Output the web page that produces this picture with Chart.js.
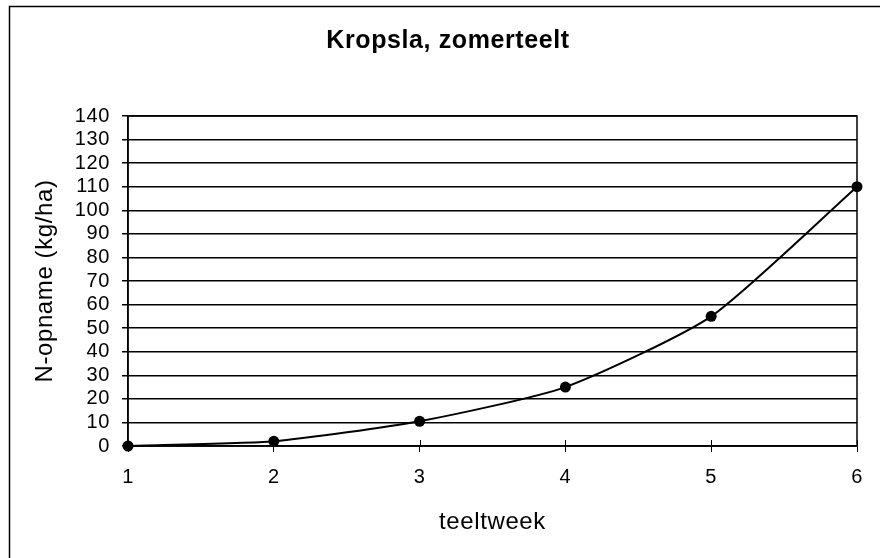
<!DOCTYPE html>
<html>
<head>
<meta charset="utf-8">
<script src="https://cdn.jsdelivr.net/npm/chart.js@4"></script>
<style>
    html, body { margin: 0; padding: 0; background: #fff; }
    #wrap { width: 880px; height: 558px; }
</style>
</head>
<body>
<div id="wrap"><canvas id="nChart"></canvas></div>
<script>
// data
const weeks = [1, 2, 3, 4, 5, 6];
const nUptake = [0, 2, 10.5, 25, 55, 110];
const yTicks = [0, 140, 10];

const chartTitle = 'Kropsla, zomerteelt';
const yTitle = 'N-opname (kg/ha)';
const xTitle = 'teeltweek';

const font = '"Liberation Sans", Arial, sans-serif';

// the old chart has slightly wider text
const spacingPlugin = {
    id: 'spacing',
    beforeDraw(chart) {
        chart.ctx.letterSpacing = '0.6px';
    }
};

// frame round the whole chart (only left/top visible) + box + inward x ticks
const framePlugin = {
    id: 'frame',
    afterDraw(chart) {
        const ctx = chart.ctx;
        const a = chart.chartArea;
        ctx.save();
        ctx.strokeStyle = '#000';
        ctx.lineWidth = 1.5;
        ctx.strokeRect(9.5, 6.5, chart.width + 20, chart.height + 20);
        ctx.strokeRect(a.left, a.top, a.right - a.left, a.bottom - a.top);

        const xs = chart.scales.x;
        ctx.lineWidth = 1;
        xs.ticks.forEach(t => {
            const px = Math.round(xs.getPixelForValue(t.value)) + 0.5;
            ctx.beginPath();
            ctx.moveTo(px, a.bottom);
            ctx.lineTo(px, a.bottom - 6);
            ctx.stroke();
        });
        ctx.restore();
    }
};

new Chart(document.getElementById('nChart'), {
    type: 'line',
    data: {
        datasets: [{
            data: weeks.map((w, i) => ({ x: w, y: nUptake[i] })),
            borderColor: '#000',
            backgroundColor: '#000',
            borderWidth: 2,
            pointRadius: 5.5,
            pointHoverRadius: 5.5,
            pointBackgroundColor: '#000',
            pointBorderWidth: 0,
            tension: 0.2,
            clip: false
        }]
    },
    options: {
        responsive: true,
        maintainAspectRatio: false,
        animation: false,
        layout: { padding: { left: 16, right: 0, top: 0, bottom: 0 } },
        plugins: {
            legend: { display: false },
            tooltip: { enabled: false },
            title: {
                display: true,
                text: chartTitle,
                color: '#000',
                font: { family: font, size: 25, weight: 'bold' },
                padding: { top: 26, bottom: 60 }
            }
        },
        scales: {
            x: {
                type: 'linear',
                min: weeks[0],
                max: weeks[weeks.length - 1],
                afterFit: s => { s.height = 112; },
                ticks: {
                    stepSize: 1,
                    autoSkip: false,
                    color: '#000',
                    padding: 13,
                    font: { family: font, size: 20 }
                },
                grid: {
                    drawOnChartArea: false,
                    color: '#000',
                    tickLength: 6,
                    lineWidth: 1
                },
                border: { color: '#000', width: 1.5 },
                title: {
                    display: true,
                    text: xTitle,
                    color: '#000',
                    font: { family: font, size: 24 },
                    padding: { top: 0, bottom: 21 }
                }
            },
            y: {
                min: yTicks[0],
                max: yTicks[1],
                afterFit: s => { s.width = 112; },
                ticks: {
                    stepSize: yTicks[2],
                    autoSkip: false,
                    color: '#000',
                    padding: 12,
                    font: { family: font, size: 20 }
                },
                grid: {
                    color: '#000',
                    lineWidth: 1.5,
                    tickLength: 6
                },
                border: { color: '#000', width: 1.5 },
                title: {
                    display: true,
                    text: yTitle,
                    color: '#000',
                    font: { family: font, size: 24 },
                    padding: { top: 15, bottom: 0 }
                }
            },
            // empty strip on the right so the title centres like the original
            yRight: {
                position: 'right',
                min: yTicks[0],
                max: yTicks[1],
                afterFit: s => { s.width = 23; },
                ticks: { display: false },
                grid: { display: false },
                border: { display: false }
            }
        }
    },
    plugins: [spacingPlugin, framePlugin]
});
</script>
</body>
</html>
